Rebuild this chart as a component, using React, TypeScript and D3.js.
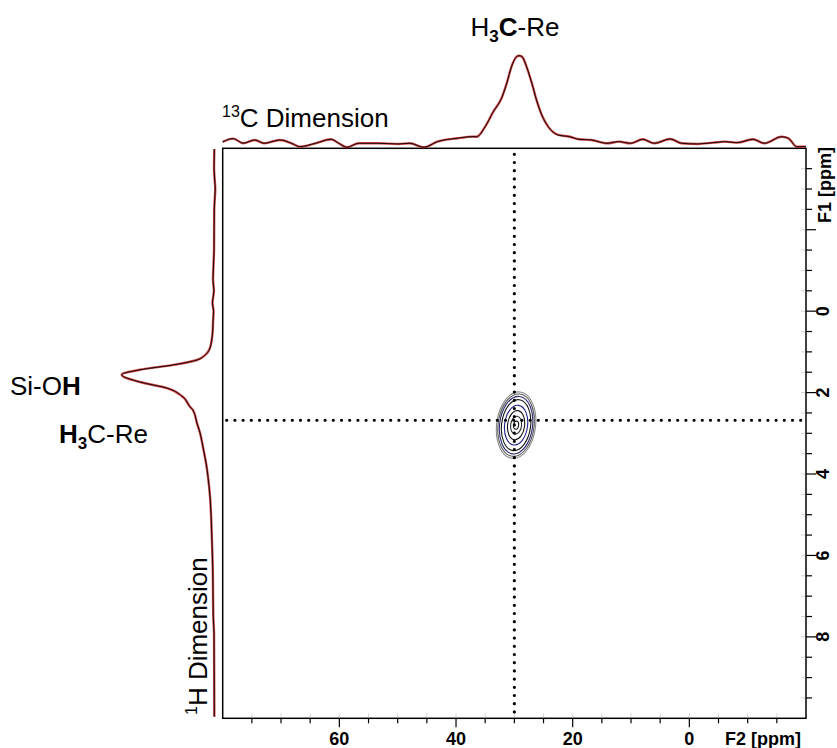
import React from "react";
import * as d3 from "d3";

// ---- data ----
const topPpm = [80, 78.2, 76.5, 74.5, 72.9, 70.2, 68.2, 66.8, 64.1, 61.4, 60.1, 58.7, 56.7, 53.3, 49.9, 47.9, 45.5, 43.2, 39.8, 37.1, 36.45, 35.0, 33.6, 32.2, 31.3, 30.5, 29.6, 29.2, 28.7, 27.9, 27.0, 26.2, 25.3, 24.2, 22.5, 20.5, 18.9, 16.8, 14.1, 12.1, 10.1, 8.0, 6.0, 3.3, 1.3, -1.4, -4.1, -6.1, -8.2, -10.9, -12.9, -15.8, -17.0, -18.4, -20.0];
const topIntensity = [7, 10.5, 5.5, 9, 5.4, 9.0, 5.4, 1.8, 5.4, 9.7, 5.4, 1.1, 5.4, 5.4, 4.7, 5.4, 1.1, 7.2, 10.8, 12.6, 12.5, 23.4, 39.6, 54, 70.3, 88, 99, 100, 99, 88, 70.3, 52.2, 36, 23.4, 14.4, 12.5, 9.7, 9.0, 5.4, 7.2, 5.4, 9.7, 5.4, 10.1, 5.4, 4.7, 6.1, 7.2, 6.1, 9.7, 5.4, 12.5, 10.8, 1.7, 1.8];

const leftPpm = [-3.98, -3.5, -3.0, -2.5, -2.0, -1.5, -0.77, -0.5, -0.2, 0.0, 0.22, 0.5, 0.71, 0.95, 1.08, 1.2, 1.32, 1.44, 1.56, 1.74, 1.89, 2.11, 2.35, 2.43, 2.75, 2.99, 3.34, 3.83, 4.07, 4.56, 5.45, 6.28, 7.51, 7.9, 9.96];
const leftIntensity = [0.2, 0.5, -0.8, 0.3, 0.4, 0.5, 1.6, 0.6, 2.2, 1.0, 1.5, 2.0, 3.0, 5.7, 10.2, 18.9, 44.2, 80.3, 100, 80.3, 51.2, 33.9, 26.4, 23.2, 18.9, 15.6, 12.4, 8.4, 7.0, 4.8, 3.0, 1.9, 1.3, 0.5, 0.2];

const bottomMinorTicks = [75, 70, 65, 55, 50, 45, 35, 30, 25, 15, 10, 5, -5, -10, -15];
const bottomMajorTicks = [60, 40, 20, 0];
const bottomTickLabels = ["60", "40", "20", "0"];
const rightMinorTicks = [-3.5, -3, -2.5, -1.5, -1, -0.5, 0.5, 1, 1.5, 2.5, 3, 3.5, 4.5, 5, 5.5, 6.5, 7, 7.5, 8.5, 9, 9.5];
const rightMajorTicks = [-2, 0, 2, 4, 6, 8];
const rightLabelValues = [0, 2, 4, 6, 8];
const rightTickLabels = ["0", "2", "4", "6", "8"];

const crossF2 = [30];
const crossF1 = [2.68];

const contourCenterF2 = 29.7;
const contourCenterF1 = 2.8;
const contourHalfWidthF2 = [3.34, 3.09, 2.83, 2.49, 1.97, 1.46, 0.94, 0.43];
const contourHalfHeightF1 = [0.82, 0.77, 0.71, 0.63, 0.49, 0.36, 0.22, 0.1];
const contourColors = ["#8a8a8a", "#5c5c5c", "#2a2a6e", "#1a1a1a", "#22228a", "#111111", "#333333", "#111111"];

// ---- layout ----
const W = 837;
const H = 748;
const L = 222.7, R = 806, T = 148.3, B = 718.3;
const FONT = "'Liberation Sans', Arial, Helvetica, sans-serif";

export default function App() {
  const x = d3.scaleLinear().domain([80, -20]).range([L, R]);
  const y = d3.scaleLinear().domain([-4, 10]).range([T, B]);
  const topY = d3.scaleLinear().domain([0, 100]).range([T, 55.7]);
  const leftX = d3.scaleLinear().domain([0, 100]).range([214.5, 121.7]);

  const topData = topPpm.map((p, i) => [p, topIntensity[i]] as [number, number]);
  const leftData = leftPpm.map((p, i) => [p, leftIntensity[i]] as [number, number]);

  const topLine = d3
    .line<[number, number]>()
    .x((d) => x(d[0]))
    .y((d) => topY(d[1]))
    .curve(d3.curveMonotoneX);
  const leftLine = d3
    .line<[number, number]>()
    .x((d) => leftX(d[1]))
    .y((d) => y(d[0]))
    .curve(d3.curveMonotoneY);

  const topPath = topLine(topData) || "";
  const leftPath = leftLine(leftData) || "";

  const cx = x(contourCenterF2);
  const cy = y(contourCenterF1);
  const pxPerPpmX = Math.abs(x(1) - x(0));
  const pxPerPpmY = Math.abs(y(1) - y(0));

  return (
    <svg
      width={W}
      height={H}
      style={{ position: "absolute", left: 0, top: 0, background: "#fff" }}
      fontFamily={FONT}
    >
      <rect x={0} y={0} width={W} height={H} fill="#fff" />

      {/* top label */}
      <text x={515} y={36} fontSize={26} textAnchor="middle" fill="#000">
        <tspan>H</tspan>
        <tspan fontWeight="bold" fontSize={17} dy={6}>3</tspan>
        <tspan fontWeight="bold" dy={-6}>C</tspan>
        <tspan>-Re</tspan>
      </text>

      {/* 13C Dimension */}
      <text x={222} y={127} fontSize={26} fill="#000">
        <tspan fontSize={16} dy={-10}>13</tspan>
        <tspan dy={10}>C Dimension</tspan>
      </text>

      {/* Si-OH */}
      <text x={10} y={395} fontSize={26} fill="#000">
        <tspan>Si-O</tspan>
        <tspan fontWeight="bold">H</tspan>
      </text>

      {/* H3C-Re left */}
      <text x={59} y={443} fontSize={26} fill="#000">
        <tspan fontWeight="bold">H</tspan>
        <tspan fontWeight="bold" fontSize={17} dy={6}>3</tspan>
        <tspan dy={-6}>C-Re</tspan>
      </text>

      {/* 1H Dimension */}
      <text transform="translate(207,715) rotate(-90)" fontSize={26} fill="#000">
        <tspan fontSize={16} dy={-10}>1</tspan>
        <tspan dy={10}>H Dimension</tspan>
      </text>

      {/* faint inner ticks */}
      {bottomMinorTicks.concat(bottomMajorTicks).map((t, i) => (
        <line key={"fb" + i} x1={x(t)} x2={x(t)} y1={B - 5} y2={B - 1} stroke="#d6d6d6" strokeWidth={1} />
      ))}
      {rightMinorTicks.concat(rightMajorTicks).map((t, i) => (
        <line key={"fr" + i} x1={R - 5} x2={R - 1} y1={y(t)} y2={y(t)} stroke="#d6d6d6" strokeWidth={1} />
      ))}

      {/* contours */}
      <g>
        {contourHalfWidthF2.map((hw, i) => (
          <ellipse
            key={"c" + i}
            cx={cx}
            cy={cy}
            rx={hw * pxPerPpmX}
            ry={contourHalfHeightF1[i] * pxPerPpmY}
            fill="none"
            stroke={contourColors[i]}
            strokeWidth={1.1}
            transform={`rotate(7 ${cx} ${cy})`}
          />
        ))}
      </g>

      {/* dotted cross lines */}
      {crossF2.map((v, i) => (
        <line
          key={"vx" + i}
          x1={x(v)}
          x2={x(v)}
          y1={T + 6}
          y2={B}
          stroke="#000"
          strokeWidth={3.2}
          strokeLinecap="round"
          strokeDasharray="0 8.2"
        />
      ))}
      {crossF1.map((v, i) => (
        <line
          key={"hy" + i}
          x1={L + 4}
          x2={R}
          y1={y(v)}
          y2={y(v)}
          stroke="#000"
          strokeWidth={3.2}
          strokeLinecap="round"
          strokeDasharray="0 8.2"
        />
      ))}

      {/* plot frame */}
      <rect x={L} y={T} width={R - L} height={B - T} fill="none" stroke="#000" strokeWidth={1.5} />

      {/* bottom axis ticks */}
      {bottomMinorTicks.map((t, i) => (
        <line key={"bm" + i} x1={x(t)} x2={x(t)} y1={B} y2={B + 5} stroke="#000" strokeWidth={1.2} />
      ))}
      {bottomMajorTicks.map((t, i) => (
        <line key={"bM" + i} x1={x(t)} x2={x(t)} y1={B} y2={B + 9} stroke="#000" strokeWidth={1.2} />
      ))}
      {bottomMajorTicks.map((t, i) => (
        <text key={"bl" + i} x={x(t)} y={745} fontSize={18} fontWeight="bold" textAnchor="middle" fill="#000">
          {bottomTickLabels[i]}
        </text>
      ))}
      <text x={725} y={745} fontSize={18} fontWeight="bold" fill="#000">
        F2 [ppm]
      </text>

      {/* right axis ticks */}
      {rightMinorTicks.map((t, i) => (
        <line key={"rm" + i} x1={R} x2={R + 6} y1={y(t)} y2={y(t)} stroke="#000" strokeWidth={1.2} />
      ))}
      {rightMajorTicks.map((t, i) => (
        <line key={"rM" + i} x1={R} x2={R + 10} y1={y(t)} y2={y(t)} stroke="#000" strokeWidth={1.2} />
      ))}
      {rightLabelValues.map((t, i) => (
        <text
          key={"rl" + i}
          transform={`translate(829,${y(t)}) rotate(-90)`}
          fontSize={18}
          fontWeight="bold"
          textAnchor="middle"
          fill="#000"
        >
          {rightTickLabels[i]}
        </text>
      ))}
      <text transform="translate(831,223) rotate(-90)" fontSize={18} fontWeight="bold" fill="#000">
        F1 [ppm]
      </text>

      {/* projections */}
      <path d={topPath} fill="none" stroke="#c42a2a" strokeWidth={2.4} strokeOpacity={0.85} strokeLinejoin="round" />
      <path d={topPath} fill="none" stroke="#1a0505" strokeWidth={1} strokeLinejoin="round" />
      <path d={leftPath} fill="none" stroke="#c42a2a" strokeWidth={2.4} strokeOpacity={0.85} strokeLinejoin="round" />
      <path d={leftPath} fill="none" stroke="#1a0505" strokeWidth={1} strokeLinejoin="round" />
    </svg>
  );
}
